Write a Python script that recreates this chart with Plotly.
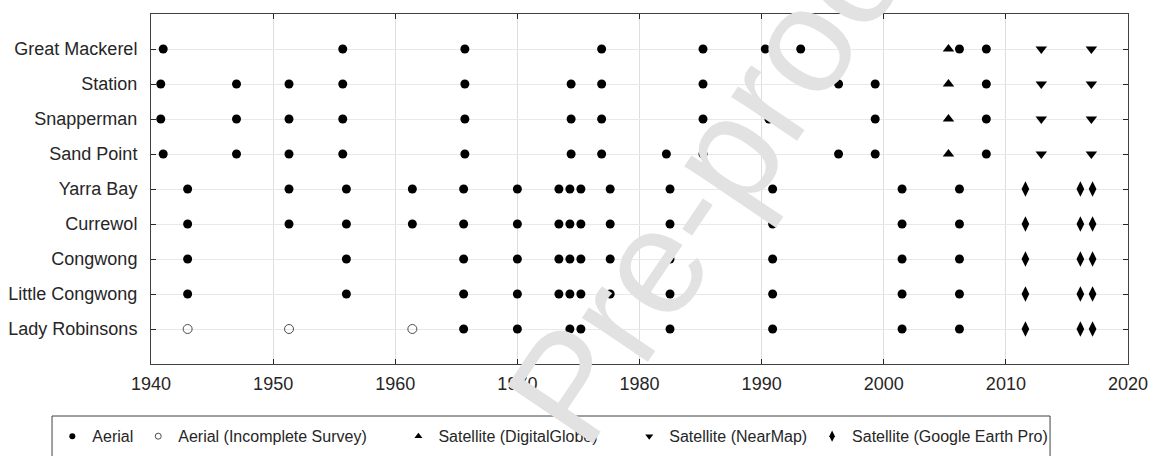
import plotly.graph_objects as go

# Survey sites, listed top to bottom
sites = ["Great Mackerel", "Station", "Snapperman", "Sand Point", "Yarra Bay",
         "Currewol", "Congwong", "Little Congwong", "Lady Robinsons"]

# Aerial photography years per site
aerial_great_mackerel = [1941.0, 1955.7, 1965.7, 1976.9, 1985.2, 1990.3, 1993.2, 2006.2, 2008.4]
aerial_station = [1940.8, 1947.0, 1951.3, 1955.7, 1965.7, 1974.4, 1976.9, 1985.2, 1996.3, 1999.3, 2008.4]
aerial_snapperman = [1940.8, 1947.0, 1951.3, 1955.7, 1965.7, 1974.4, 1976.9, 1985.2, 1990.6, 1999.3, 2008.4]
aerial_sand_point = [1941.0, 1947.0, 1951.3, 1955.7, 1965.7, 1974.4, 1976.9, 1982.2, 1985.2, 1990.6,
                     1996.3, 1999.3, 2008.4]
aerial_yarra_bay = [1943.0, 1951.3, 1956.0, 1961.4, 1965.6, 1970.0, 1973.4, 1974.3, 1975.2, 1977.6,
                    1982.5, 1990.9, 2001.5, 2006.2]
aerial_currewol = [1943.0, 1951.3, 1956.0, 1961.4, 1965.6, 1970.0, 1973.4, 1974.3, 1975.2, 1977.6,
                   1982.5, 1990.9, 2001.5, 2006.2]
aerial_congwong = [1943.0, 1956.0, 1965.6, 1970.0, 1973.4, 1974.3, 1975.2, 1977.6, 1982.5, 1990.9,
                   2001.5, 2006.2]
aerial_little_congwong = [1943.0, 1956.0, 1965.6, 1970.0, 1973.4, 1974.3, 1975.2, 1977.6, 1982.5,
                          1990.9, 2001.5, 2006.2]
aerial_lady_robinsons = [1965.6, 1970.0, 1974.3, 1975.2, 1982.5, 1990.9, 2001.5, 2006.2]

# Incomplete aerial surveys
incomplete_lady_robinsons = [1943.0, 1951.3, 1961.4]

# Satellite imagery years
digitalglobe_sites = ["Great Mackerel", "Station", "Snapperman", "Sand Point"]
digitalglobe_years = [2005.3]
nearmap_sites = ["Great Mackerel", "Station", "Snapperman", "Sand Point"]
nearmap_years = [2012.9, 2017.0]
google_sites = ["Yarra Bay", "Currewol", "Congwong", "Little Congwong", "Lady Robinsons"]
google_years = [2011.6, 2016.1, 2017.1]

x_ticks = [1940, 1950, 1960, 1970, 1980, 1990, 2000, 2010, 2020]

aerial_by_site = {
    "Great Mackerel": aerial_great_mackerel,
    "Station": aerial_station,
    "Snapperman": aerial_snapperman,
    "Sand Point": aerial_sand_point,
    "Yarra Bay": aerial_yarra_bay,
    "Currewol": aerial_currewol,
    "Congwong": aerial_congwong,
    "Little Congwong": aerial_little_congwong,
    "Lady Robinsons": aerial_lady_robinsons,
}

# site -> row position (top row gets the largest value)
row = {s: len(sites) - i for i, s in enumerate(sites)}

FONT = "Liberation Sans, Arial, Helvetica, sans-serif"
INK = "#262626"
PAD = "\u00a0" * 6  # extra room between some legend entries


def expand(site_list, years):
    xs, ys = [], []
    for s in site_list:
        for yr in years:
            xs.append(yr)
            ys.append(row[s])
    return xs, ys


ax, ay = [], []
for s in sites:
    for yr in aerial_by_site[s]:
        ax.append(yr)
        ay.append(row[s])
gx, gy = expand(digitalglobe_sites, digitalglobe_years)
nx, ny = expand(nearmap_sites, nearmap_years)
ex, ey = expand(google_sites, google_years)

# (name, legend label, x, y, symbol, plot size, legend size, colour, line width)
series = [
    ("Aerial", "Aerial", ax, ay, "circle", 9, 6, "black", 0),
    ("Aerial (Incomplete Survey)", "Aerial (Incomplete Survey)" + PAD, incomplete_lady_robinsons,
     [row["Lady Robinsons"]] * len(incomplete_lady_robinsons), "circle-open", 9, 6, "#4d4d4d", 1),
    ("Satellite (DigitalGlobe)", "Satellite (DigitalGlobe)" + PAD, gx, gy, "triangle-up", 10, 7, "black", 0),
    ("Satellite (NearMap)", "Satellite (NearMap)", nx, ny, "triangle-down", 10, 7, "black", 0),
    ("Satellite (Google Earth Pro)", "Satellite (Google Earth Pro)", ex, ey, "diamond-tall", 11, 8, "black", 0),
]

fig = go.Figure()
for name, _, xs, ys, sym, size, _, col, lw in series:
    fig.add_trace(go.Scatter(x=xs, y=ys, mode="markers", name=name, showlegend=False,
                             marker=dict(symbol=sym, size=size, color=col,
                                         line=dict(width=lw, color=col))))
# smaller symbols for the legend key
for _, label, _, _, sym, _, lsize, col, lw in series:
    fig.add_trace(go.Scatter(x=[None], y=[None], mode="markers", name=label,
                             marker=dict(symbol=sym, size=lsize, color=col,
                                         line=dict(width=lw, color=col))))

fig.update_layout(
    width=1154, height=456,
    margin=dict(l=151, r=26, t=14, b=92, autoexpand=False),
    paper_bgcolor="white", plot_bgcolor="white",
    font=dict(family=FONT, size=16, color=INK),
    xaxis=dict(range=[1940, 2020], tickvals=x_ticks, ticktext=[str(v) for v in x_ticks],
               showgrid=True, gridcolor="#dedede", gridwidth=1,
               showline=True, linecolor="#404040", linewidth=1, mirror="ticks",
               ticks="inside", ticklen=5, tickcolor="#262626",
               tickfont=dict(size=18, color=INK), zeroline=False,
               ticklabelstandoff=3),
    yaxis=dict(range=[0, 10], tickvals=[row[s] for s in sites], ticktext=sites,
               showgrid=True, gridcolor="#e8e8e8", gridwidth=1,
               showline=True, linecolor="#404040", linewidth=1, mirror="ticks",
               ticks="inside", ticklen=5, tickcolor="#262626",
               tickfont=dict(size=18, color=INK), zeroline=False,
               ticklabelstandoff=9),
    legend=dict(orientation="h", x=-0.101, xanchor="left", y=-0.158, yanchor="top",
                font=dict(size=16, color=INK), borderwidth=0, bgcolor="rgba(0,0,0,0)",
                itemsizing="trace"),
    shapes=[dict(type="rect", xref="paper", yref="paper",
                 x0=-0.1013, x1=0.9202, y0=-0.32, y1=-0.1486,
                 line=dict(color="#404040", width=1), fillcolor="rgba(0,0,0,0)")],
    annotations=[dict(text="Pre-proof", xref="paper", yref="paper",
                      x=(718 - 151) / 977, y=1 - (165 - 14) / 350,
                      xanchor="center", yanchor="middle", showarrow=False,
                      textangle=-56,
                      font=dict(family=FONT, size=150, color="#e2e2e2"))],
)

fig.write_html("out.html")
